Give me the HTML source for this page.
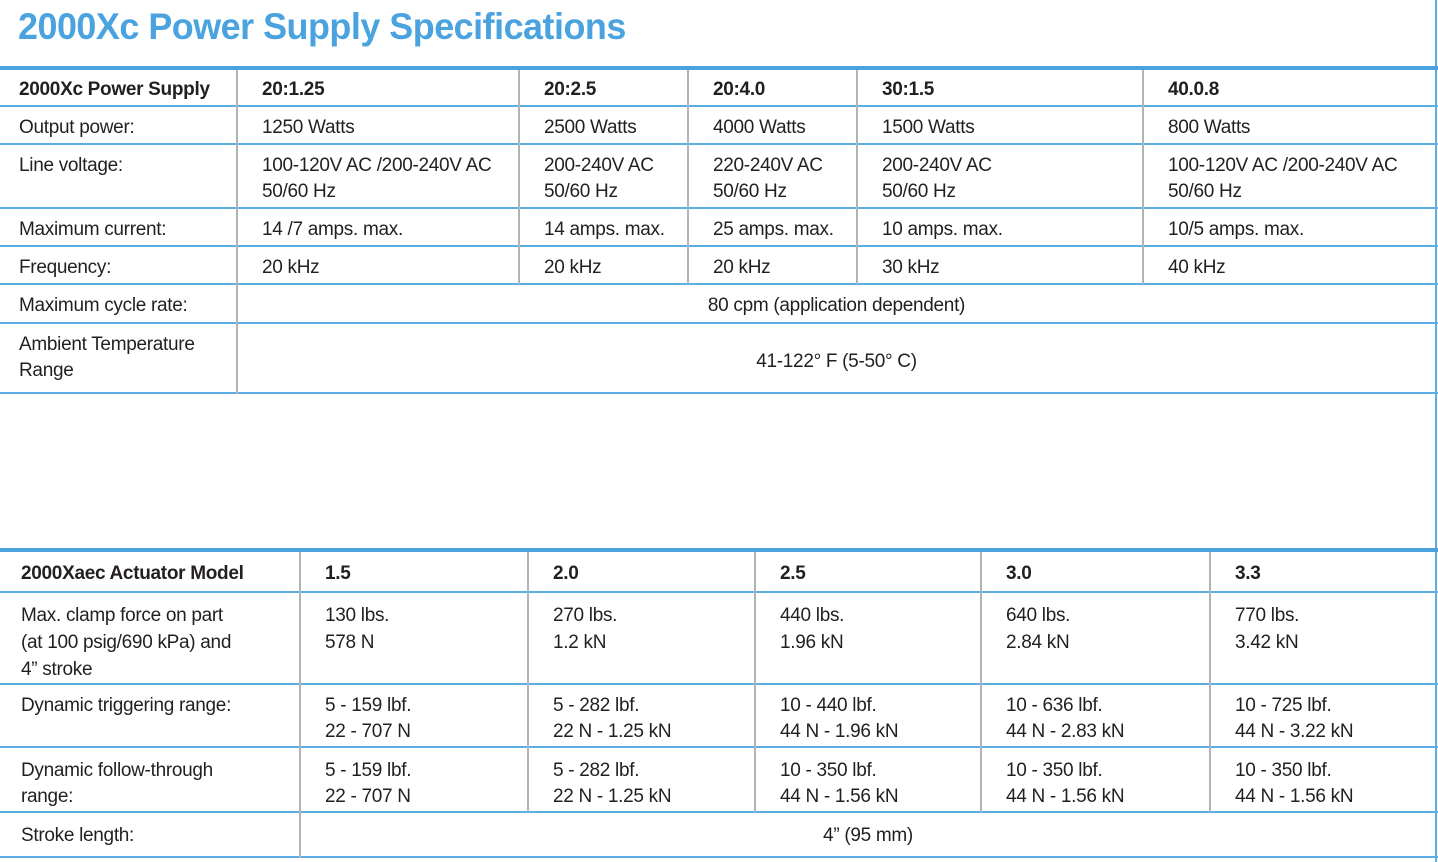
<!DOCTYPE html>
<html><head><meta charset="utf-8"><style>
body{margin:0;width:1438px;height:862px;background:#fff;position:relative;overflow:hidden;font-family:"Liberation Sans",sans-serif;color:#231f20}
.t{position:absolute;font-size:19px;line-height:26px;letter-spacing:-0.3px;white-space:nowrap;margin-top:2px}
.b{font-weight:bold}
.h{position:absolute;background:#5aaee3;height:2px}
.v{position:absolute;background:#b3b3b5;width:2px}
.c{text-align:center}
</style></head><body>
<div style="position:absolute;left:18px;top:6px;font-size:37px;font-weight:bold;color:#4aa3df;transform:scaleX(0.97);transform-origin:left top;white-space:nowrap;letter-spacing:-0.5px">2000Xc Power Supply Specifications</div>
<div style="position:absolute;left:1435px;top:0;width:2px;height:862px;background:#5aaee3"></div>

<div>
<div class="h" style="left:0;top:66px;width:1438px;height:4px;background:#4aa3df"></div>
<div class="h" style="left:0;top:105px;width:1438px"></div>
<div class="h" style="left:0;top:143px;width:1438px"></div>
<div class="h" style="left:0;top:207px;width:1438px"></div>
<div class="h" style="left:0;top:245px;width:1438px"></div>
<div class="h" style="left:0;top:283px;width:1438px"></div>
<div class="h" style="left:0;top:322px;width:1438px"></div>
<div class="h" style="left:0;top:392px;width:1438px"></div>
<div class="v" style="left:236px;top:70px;height:324px"></div>
<div class="v" style="left:518px;top:70px;height:214px"></div>
<div class="v" style="left:687px;top:70px;height:214px"></div>
<div class="v" style="left:856px;top:70px;height:214px"></div>
<div class="v" style="left:1142px;top:70px;height:214px"></div>

<div class="t b" style="left:19px;top:75px">2000Xc Power Supply</div>
<div class="t b" style="left:262px;top:75px">20:1.25</div>
<div class="t b" style="left:544px;top:75px">20:2.5</div>
<div class="t b" style="left:713px;top:75px">20:4.0</div>
<div class="t b" style="left:882px;top:75px">30:1.5</div>
<div class="t b" style="left:1168px;top:75px">40.0.8</div>

<div class="t" style="left:19px;top:113px">Output power:</div>
<div class="t" style="left:262px;top:113px">1250 Watts</div>
<div class="t" style="left:544px;top:113px">2500 Watts</div>
<div class="t" style="left:713px;top:113px">4000 Watts</div>
<div class="t" style="left:882px;top:113px">1500 Watts</div>
<div class="t" style="left:1168px;top:113px">800 Watts</div>

<div class="t" style="left:19px;top:151px">Line voltage:</div>
<div class="t" style="left:262px;top:151px">100-120V AC /200-240V AC<br>50/60 Hz</div>
<div class="t" style="left:544px;top:151px">200-240V AC<br>50/60 Hz</div>
<div class="t" style="left:713px;top:151px">220-240V AC<br>50/60 Hz</div>
<div class="t" style="left:882px;top:151px">200-240V AC<br>50/60 Hz</div>
<div class="t" style="left:1168px;top:151px">100-120V AC /200-240V AC<br>50/60 Hz</div>

<div class="t" style="left:19px;top:215px">Maximum current:</div>
<div class="t" style="left:262px;top:215px">14 /7 amps. max.</div>
<div class="t" style="left:544px;top:215px">14 amps. max.</div>
<div class="t" style="left:713px;top:215px">25 amps. max.</div>
<div class="t" style="left:882px;top:215px">10 amps. max.</div>
<div class="t" style="left:1168px;top:215px">10/5 amps. max.</div>

<div class="t" style="left:19px;top:253px">Frequency:</div>
<div class="t" style="left:262px;top:253px">20 kHz</div>
<div class="t" style="left:544px;top:253px">20 kHz</div>
<div class="t" style="left:713px;top:253px">20 kHz</div>
<div class="t" style="left:882px;top:253px">30 kHz</div>
<div class="t" style="left:1168px;top:253px">40 kHz</div>

<div class="t" style="left:19px;top:291px">Maximum cycle rate:</div>
<div class="t c" style="left:238px;width:1197px;top:291px">80 cpm (application dependent)</div>

<div class="t" style="left:19px;top:330px">Ambient Temperature<br>Range</div>
<div class="t c" style="left:238px;width:1197px;top:347px">41-122° F (5-50° C)</div>
</div>

<div>
<div class="h" style="left:0;top:548px;width:1438px;height:4px;background:#4aa3df"></div>
<div class="h" style="left:0;top:591px;width:1438px"></div>
<div class="h" style="left:0;top:683px;width:1438px"></div>
<div class="h" style="left:0;top:746px;width:1438px"></div>
<div class="h" style="left:0;top:811px;width:1438px"></div>
<div class="h" style="left:0;top:856px;width:1438px"></div>
<div class="v" style="left:299px;top:552px;height:306px"></div>
<div class="v" style="left:527px;top:552px;height:260px"></div>
<div class="v" style="left:754px;top:552px;height:260px"></div>
<div class="v" style="left:980px;top:552px;height:260px"></div>
<div class="v" style="left:1209px;top:552px;height:260px"></div>

<div class="t b" style="left:21px;top:559px">2000Xaec Actuator Model</div>
<div class="t b" style="left:325px;top:559px">1.5</div>
<div class="t b" style="left:553px;top:559px">2.0</div>
<div class="t b" style="left:780px;top:559px">2.5</div>
<div class="t b" style="left:1006px;top:559px">3.0</div>
<div class="t b" style="left:1235px;top:559px">3.3</div>

<div class="t" style="left:21px;top:600px;line-height:27px">Max. clamp force on part<br>(at 100 psig/690 kPa) and<br>4” stroke</div>
<div class="t" style="left:325px;top:600px;line-height:27px">130 lbs.<br>578 N</div>
<div class="t" style="left:553px;top:600px;line-height:27px">270 lbs.<br>1.2 kN</div>
<div class="t" style="left:780px;top:600px;line-height:27px">440 lbs.<br>1.96 kN</div>
<div class="t" style="left:1006px;top:600px;line-height:27px">640 lbs.<br>2.84 kN</div>
<div class="t" style="left:1235px;top:600px;line-height:27px">770 lbs.<br>3.42 kN</div>

<div class="t" style="left:21px;top:691px">Dynamic triggering range:</div>
<div class="t" style="left:325px;top:691px">5 - 159 lbf.<br>22 - 707 N</div>
<div class="t" style="left:553px;top:691px">5 - 282 lbf.<br>22 N - 1.25 kN</div>
<div class="t" style="left:780px;top:691px">10 - 440 lbf.<br>44 N - 1.96 kN</div>
<div class="t" style="left:1006px;top:691px">10 - 636 lbf.<br>44 N - 2.83 kN</div>
<div class="t" style="left:1235px;top:691px">10 - 725 lbf.<br>44 N - 3.22 kN</div>

<div class="t" style="left:21px;top:756px">Dynamic follow-through<br>range:</div>
<div class="t" style="left:325px;top:756px">5 - 159 lbf.<br>22 - 707 N</div>
<div class="t" style="left:553px;top:756px">5 - 282 lbf.<br>22 N - 1.25 kN</div>
<div class="t" style="left:780px;top:756px">10 - 350 lbf.<br>44 N - 1.56 kN</div>
<div class="t" style="left:1006px;top:756px">10 - 350 lbf.<br>44 N - 1.56 kN</div>
<div class="t" style="left:1235px;top:756px">10 - 350 lbf.<br>44 N - 1.56 kN</div>

<div class="t" style="left:21px;top:821px">Stroke length:</div>
<div class="t c" style="left:301px;width:1134px;top:821px">4” (95 mm)</div>
</div>
</body></html>
